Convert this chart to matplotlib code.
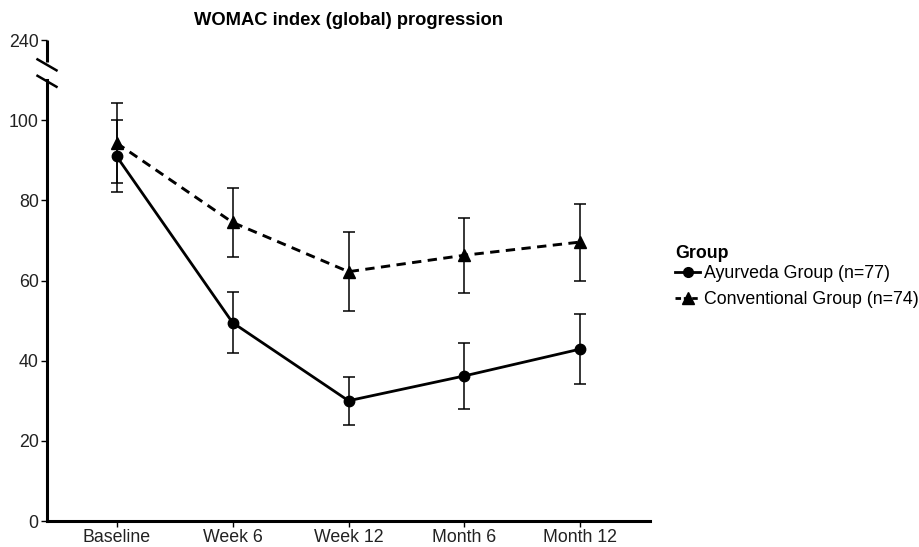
import numpy as np
import matplotlib.pyplot as plt
from matplotlib.lines import Line2D

# data
timepoints = ["Baseline", "Week 6", "Week 12", "Month 6", "Month 12"]
ayur_mean = [91.0, 49.5, 30.0, 36.2, 42.9]
ayur_err = [9.0, 7.6, 6.0, 8.2, 8.7]
conv_mean = [94.3, 74.5, 62.2, 66.3, 69.6]
conv_err = [10.0, 8.7, 9.8, 9.4, 9.6]
ytick_vals = [0, 20, 40, 60, 80, 100, 120]
ytick_labels = ["0", "20", "40", "60", "80", "100", "240"]

plt.rcParams['font.family'] = ['Liberation Sans', 'DejaVu Sans']

fig = plt.figure(figsize=(9.2, 5.47), dpi=100)
ax = fig.add_axes([47 / 920, 26 / 547, 603 / 920, 481 / 547])

x = np.arange(1, len(timepoints) + 1)

ax.errorbar(x, conv_mean, yerr=conv_err, color='black', lw=2.1, ls=(0, (3.2, 2.2)),
            marker='^', ms=9, ecolor='black', elinewidth=1.1, capsize=4.5, capthick=1.1)
ax.errorbar(x, ayur_mean, yerr=ayur_err, color='black', lw=2.0, ls='-',
            marker='o', ms=7.5, ecolor='black', elinewidth=1.1, capsize=4.5, capthick=1.1)

ax.set_xlim(0.4, len(timepoints) + 0.6)
ax.set_ylim(0, 120)
ax.set_xticks(x)
ax.set_xticklabels(timepoints)
ax.set_yticks(ytick_vals)
ax.set_yticklabels(ytick_labels)
ax.tick_params(axis='both', length=4, width=1, labelsize=12.8, colors='black',
               labelcolor='#222222', pad=2)

for s in ['top', 'right']:
    ax.spines[s].set_visible(False)
ax.spines['bottom'].set_linewidth(2.2)
ax.spines['left'].set_linewidth(2.2)
ax.spines['left'].set_bounds(0, 110)

# axis break decoration
tr = ax.get_yaxis_transform()
ax.plot([0, 0], [114.5, 120], transform=tr, color='black', lw=2.2, clip_on=False,
        solid_capstyle='butt')
dx = 9.5 / 603
for yc in [113.8, 109.7]:
    ax.plot([-dx, dx], [yc + 1.37, yc - 1.37], transform=tr, color='black', lw=1.8,
            clip_on=False)

ax.set_title("WOMAC index (global) progression", fontsize=13.2, fontweight='bold', pad=11)

# legend (title drawn separately to control spacing)
fig.text(675 / 920, 1 - 254 / 547, "Group", fontsize=12.8, fontweight='bold',
         ha='left', va='center')
handles = [
    Line2D([], [], color='black', lw=2.0, marker='o', ms=7),
    Line2D([], [], color='black', lw=2.0, ls=(0, (2, 1)), marker='^', ms=8.5),
]
leg = fig.legend(handles, ["Ayurveda Group (n=77)", "Conventional Group (n=74)"],
                 loc='upper left', bbox_to_anchor=(668 / 920, 1 - 258 / 547),
                 frameon=False, fontsize=12.8, handlelength=1.4, handletextpad=0.25,
                 labelspacing=0.5, borderaxespad=0)

fig.savefig("out.png", dpi=100)
